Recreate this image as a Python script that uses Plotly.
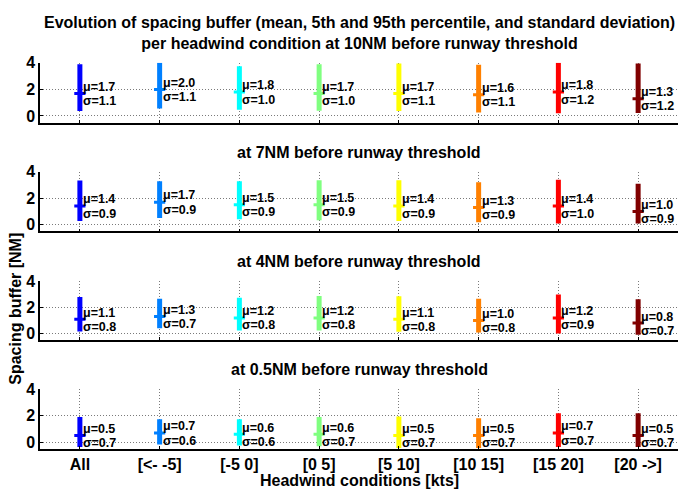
import plotly.graph_objects as go

# Headwind condition classes
categories = ["All", "[<- -5]", "[-5 0]", "[0 5]", "[5 10]", "[10 15]", "[15 20]", "[20 ->]"]
colors = ["#0000FF", "#0080FF", "#00FFFF", "#80FF80", "#FFFF00", "#FF8000", "#FF0000", "#800000"]

# Distance to runway threshold for each panel
panel_titles = [
    "Evolution of spacing buffer (mean, 5th and 95th percentile, and standard deviation)<br>per headwind condition at 10NM before runway threshold",
    "at 7NM before runway threshold",
    "at 4NM before runway threshold",
    "at 0.5NM before runway threshold",
]

# Mean spacing buffer [NM]
mean_10nm = [1.7, 2.0, 1.8, 1.7, 1.7, 1.6, 1.8, 1.3]
mean_7nm = [1.4, 1.7, 1.5, 1.5, 1.4, 1.3, 1.4, 1.0]
mean_4nm = [1.1, 1.3, 1.2, 1.2, 1.1, 1.0, 1.2, 0.8]
mean_05nm = [0.5, 0.7, 0.6, 0.6, 0.5, 0.5, 0.7, 0.5]

# Standard deviation [NM]
std_10nm = [1.1, 1.1, 1.0, 1.0, 1.1, 1.1, 1.2, 1.2]
std_7nm = [0.9, 0.9, 0.9, 0.9, 0.9, 0.9, 1.0, 0.9]
std_4nm = [0.8, 0.7, 0.8, 0.8, 0.8, 0.8, 0.9, 0.7]
std_05nm = [0.7, 0.6, 0.6, 0.7, 0.7, 0.7, 0.7, 0.7]

# 5th percentile [NM]
p5_10nm = [0.37, 0.56, 0.46, 0.39, 0.37, 0.27, 0.20, 0.22]
p5_7nm = [0.27, 0.51, 0.41, 0.34, 0.27, 0.19, 0.10, 0.10]
p5_4nm = [0.15, 0.40, 0.23, 0.23, 0.13, 0.08, 0.00, -0.10]
p5_05nm = [-0.37, -0.18, -0.25, -0.30, -0.44, -0.44, -0.37, -0.37]

# 95th percentile [NM]
p95_10nm = [3.90, 4.00, 3.75, 3.90, 3.95, 3.85, 4.00, 3.95]
p95_7nm = [3.32, 3.27, 3.27, 3.34, 3.34, 3.19, 3.39, 3.08]
p95_4nm = [2.79, 2.66, 2.74, 2.87, 2.85, 2.66, 2.99, 2.62]
p95_05nm = [1.90, 1.73, 1.73, 1.90, 1.93, 1.80, 2.17, 2.17]

panels = [
    (mean_10nm, std_10nm, p5_10nm, p95_10nm),
    (mean_7nm, std_7nm, p5_7nm, p95_7nm),
    (mean_4nm, std_4nm, p5_4nm, p95_4nm),
    (mean_05nm, std_05nm, p5_05nm, p95_05nm),
]

W, H = 678, 490
FONT = "Liberation Sans, Arial, Helvetica, sans-serif"
GRID_DASH = "1px,2px"
# pixel rows (top of y=4, bottom of y=-0.5) for each panel
panel_px = [(56, 117), (167, 228), (279, 339), (389, 450)]
title_px = [None, 148, 259, 369]

fig = go.Figure()
annotations = []
layout_axes = {}

for p, (means, stds, p5s, p95s) in enumerate(panels):
    sfx = "" if p == 0 else str(p + 1)
    xref, yref = "x" + sfx, "y" + sfx
    for i in range(len(categories)):
        xi = i + 1
        fig.add_trace(go.Scatter(
            x=[xi, xi], y=[p5s[i], p95s[i]], mode="lines",
            line=dict(color=colors[i], width=5), xaxis=xref, yaxis=yref,
            showlegend=False, hoverinfo="skip"))
        fig.add_trace(go.Scatter(
            x=[xi], y=[means[i]], mode="markers",
            marker=dict(symbol="line-ew", size=8, line=dict(color=colors[i], width=3)),
            xaxis=xref, yaxis=yref, showlegend=False, hoverinfo="skip"))
        annotations.append(dict(
            x=xi, y=means[i] + 0.5, xref=xref, yref=yref, text=f"\u03bc={means[i]:.1f}",
            showarrow=False, xanchor="left", yanchor="middle", xshift=1,
            font=dict(family=FONT, size=12.5, color="black", weight="bold")))
        annotations.append(dict(
            x=xi, y=means[i] - 0.58, xref=xref, yref=yref, text=f"\u03c3={stds[i]:.1f}",
            showarrow=False, xanchor="left", yanchor="middle", xshift=1,
            font=dict(family=FONT, size=12.5, color="black", weight="bold")))

    top, bot = panel_px[p]
    layout_axes["xaxis" + sfx] = dict(
        domain=[0, 1], anchor=yref, range=[0.5, 8.5],
        tickmode="array", tickvals=list(range(1, len(categories) + 1)),
        ticktext=categories, showticklabels=(p == 3),
        ticks="inside", ticklen=3, tickwidth=1, tickcolor="black",
        showline=True, linecolor="black", linewidth=1.5,
        showgrid=True, gridcolor="#7a7a7a", griddash=GRID_DASH, gridwidth=1,
        zeroline=False, fixedrange=True,
        tickfont=dict(family=FONT, size=16, color="black", weight="bold"),
    )
    layout_axes["yaxis" + sfx] = dict(
        domain=[1 - bot / H, 1 - top / H], anchor=xref, range=[-0.5, 4],
        tickvals=[0, 2, 4], ticks="inside", ticklen=3, tickwidth=1, tickcolor="black",
        showline=True, linecolor="black", linewidth=1.5,
        showgrid=True, gridcolor="#7a7a7a", griddash=GRID_DASH, gridwidth=1,
        zeroline=False, fixedrange=True,
        tickfont=dict(family=FONT, size=16, color="black", weight="bold"),
    )

# Panel titles
annotations.append(dict(
    x=0.5, y=1 - 26 / H, xref="paper", yref="paper", text=panel_titles[0],
    showarrow=False, xanchor="center", yanchor="middle",
    font=dict(family=FONT, size=16, color="black", weight="bold")))
for p in range(1, 4):
    annotations.append(dict(
        x=0.5, y=1 - title_px[p] / H, xref="paper", yref="paper", text=panel_titles[p],
        showarrow=False, xanchor="center", yanchor="middle",
        font=dict(family=FONT, size=16, color="black", weight="bold")))

# Axis titles
annotations.append(dict(
    x=0.5, y=1 - 482 / H, xref="paper", yref="paper", text="Headwind conditions [kts]",
    showarrow=False, xanchor="center", yanchor="middle",
    font=dict(family=FONT, size=16, color="black", weight="bold")))
annotations.append(dict(
    x=(16 - 40) / (W - 40), y=1 - 307 / H, xref="paper", yref="paper", text="Spacing buffer [NM]",
    showarrow=False, xanchor="center", yanchor="middle", textangle=-90,
    font=dict(family=FONT, size=16, color="black", weight="bold")))

fig.update_layout(
    width=W, height=H,
    margin=dict(l=40, r=0, t=0, b=0),
    paper_bgcolor="white", plot_bgcolor="white",
    font=dict(family=FONT, color="black"),
    annotations=annotations,
    showlegend=False,
    **layout_axes,
)

fig.write_html("out.html", config={"displayModeBar": False})
